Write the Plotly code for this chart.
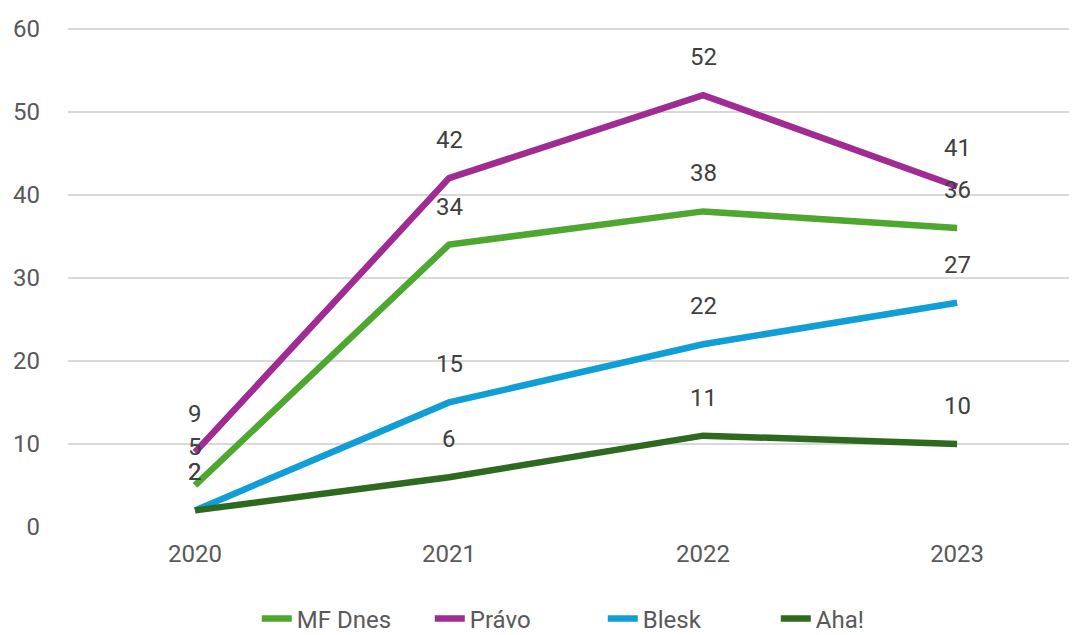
import plotly.graph_objects as go

years = ["2020", "2021", "2022", "2023"]
mf_dnes = [5, 34, 38, 36]
pravo = [9, 42, 52, 41]
blesk = [2, 15, 22, 27]
aha = [2, 6, 11, 10]

series = [
    ("MF Dnes", mf_dnes, "#4EA72E"),
    ("Právo", pravo, "#A02B93"),
    ("Blesk", blesk, "#0F9ED5"),
    ("Aha!", aha, "#2D6A1F"),
]

fig = go.Figure()
for name, vals, color in series:
    fig.add_trace(go.Scatter(
        x=years, y=vals, mode="lines", name=name,
        line=dict(color=color, width=6.5),
    ))

for name, vals, color in series:
    for i, v in enumerate(vals):
        fig.add_annotation(
            x=i, y=v, xref="x", yref="y", text=str(v), showarrow=False,
            yshift=38, font=dict(size=24, color="#404040", family="Roboto"),
        )

fig.update_layout(
    width=1069, height=640,
    margin=dict(l=60, r=0, t=19, b=121),
    paper_bgcolor="white", plot_bgcolor="white",
    font=dict(family="Roboto", color="#595959", size=24),
    showlegend=True,
    legend=dict(orientation="h", x=0.53, xanchor="center", y=-0.184, yanchor="middle",
                font=dict(size=24, color="#595959"), tracegroupgap=0,
                entrywidth=128, entrywidthmode="pixels"),
    xaxis=dict(type="category", range=[-0.5, 3.472], showgrid=False, showline=False,
               zeroline=False, ticks="", ticklabelstandoff=10,
               tickfont=dict(size=24, color="#595959")),
    yaxis=dict(range=[0, 60.2], dtick=10, showgrid=True, gridcolor="#D9D9D9", gridwidth=1.5,
               zeroline=False, showline=False, ticks="", ticklabelstandoff=27,
               tickfont=dict(size=24, color="#595959")),
)

fig.write_html("out.html")
